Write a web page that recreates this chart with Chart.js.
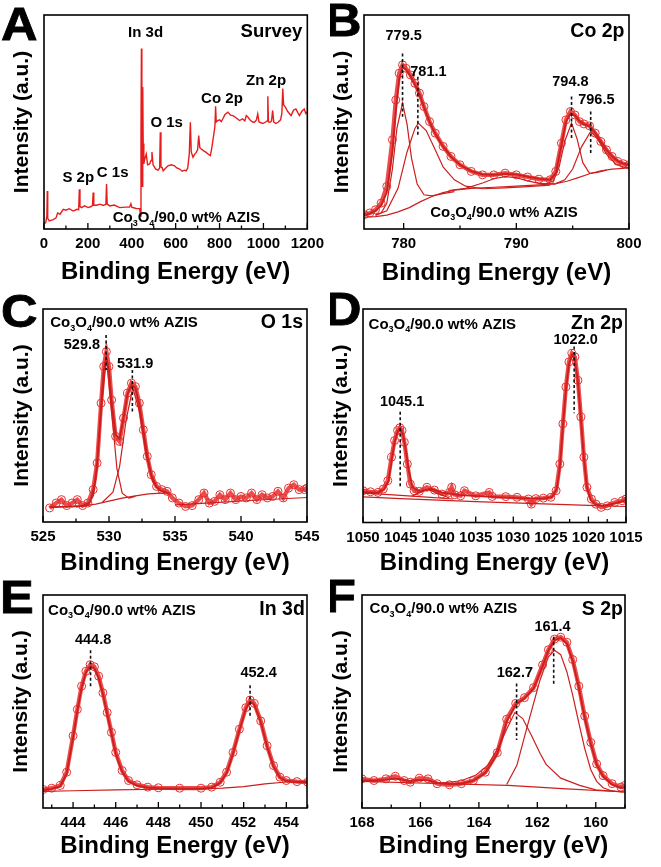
<!DOCTYPE html>
<html>
<head>
<meta charset="utf-8">
<script src="https://cdn.jsdelivr.net/npm/chart.js@4.4.0/dist/chart.umd.min.js"></script>
<style>
  body { margin: 0; background: #fff; width: 661px; height: 867px; position: relative; overflow: hidden; }
  canvas { position: absolute; }
  .tag { position: absolute; font: bold 46px "Liberation Sans", Arial, sans-serif; line-height: 46px;
         transform: scaleX(1.1); transform-origin: left top; -webkit-text-stroke: 0.8px #000; color: #000; }
  #rightTags { position: absolute; left: 330px; top: 0; width: 40px; height: 867px; overflow: hidden; }
</style>
</head>
<body>
<canvas id="panelA" width="330" height="290" style="left:0;top:0"></canvas>
<canvas id="panelB" width="331" height="290" style="left:330px;top:0"></canvas>
<canvas id="panelC" width="330" height="290" style="left:0;top:290px"></canvas>
<canvas id="panelD" width="331" height="290" style="left:330px;top:290px"></canvas>
<canvas id="panelE" width="330" height="287" style="left:0;top:580px"></canvas>
<canvas id="panelF" width="331" height="287" style="left:330px;top:580px"></canvas>
<div class="tag" style="left:1px;top:1px">A</div>
<div class="tag" style="left:1px;top:288px">C</div>
<div class="tag" style="left:0px;top:574px">E</div>
<div id="rightTags">
  <div class="tag" style="left:-5px;top:-3px">B</div>
  <div class="tag" style="left:-5px;top:286px">D</div>
  <div class="tag" style="left:-5px;top:573px">F</div>
</div>
<script>
// ===== A: SURVEY =====
const surveyEnergy = [0, 8, 13, 15, 17, 24, 42, 55, 62, 73, 88, 100, 115, 133, 150, 158, 161, 164, 171, 185,
  201, 215, 221, 224, 227, 239, 255, 270, 282, 285, 288, 300, 320, 345, 370, 390, 396, 400, 420, 436,
  440, 442, 444, 446, 448, 450, 452, 455, 460, 466, 472, 481, 488, 492, 497, 503, 509, 520, 527, 530,
  533, 539, 543, 555, 565, 580, 595, 605, 618, 630, 640, 648, 655, 662, 667, 671, 679, 687, 694, 700,
  705, 710, 717, 728, 739, 750, 758, 765, 773, 779, 782, 785, 792, 800, 808, 815, 825, 838, 850, 861,
  875, 891, 905, 915, 922, 929, 940, 951, 959, 968, 974, 980, 997, 1010, 1017, 1020, 1023, 1030, 1037, 1042,
  1047, 1057, 1068, 1078, 1084, 1088, 1092, 1100, 1110, 1118, 1126, 1137, 1148, 1156, 1164, 1175, 1186, 1193, 1200];
const surveyCounts = [2.5, 3, 6, 17.8, 5, 3.8, 4.4, 5.2, 7.5, 6.9, 9.2, 8.8, 9.5, 8.4, 9.2, 9, 18.6, 10.5, 10, 10.8,
  10, 10.5, 11, 17, 11.2, 11.1, 11.6, 11, 11.5, 21, 11.6, 10.8, 11.2, 10, 10.2, 10.2, 11.8, 10.2, 9.6, 9.5,
  6, 45, 84.4, 30, 20, 66.4, 40, 30.4, 33, 35, 30, 30.4, 32, 36, 30, 29, 28, 27.5, 28.5, 45.2,
  29, 28.6, 27.2, 28.5, 29.5, 30, 29.5, 28.5, 28, 27, 27.5, 27.2, 28.5, 35, 49.9, 36, 33.5, 35, 35.8, 37,
  43.7, 38, 37.4, 36.5, 35.8, 34.8, 34.3, 38, 43.7, 48, 57.3, 50, 50.7, 51, 50.2, 51.5, 53.5, 54.6, 53.2, 53,
  52, 50.7, 51.5, 50.5, 53, 52.3, 50.8, 50, 49.9, 51, 53.8, 50, 49.3, 50, 50.5, 62, 50, 49.9, 50.5, 55.4,
  50, 49.3, 50, 51, 54, 65.6, 58, 57, 55, 54, 53, 55.5, 56.1, 54.5, 53, 55, 56.1, 54, 54.6];
const surveyTicks = [0, 200, 400, 600, 800, 1000, 1200];
const surveyMinor = [100, 300, 500, 700, 900, 1100];

// ===== B: Co 2p =====
const coEnergy = [776.5, 777, 777.5, 778, 778.5, 779, 779.3, 779.6, 779.9, 780.2, 780.6, 781, 781.4, 781.8, 782.3,
  782.8, 783.5, 784.2, 785, 786, 787, 788, 789, 790, 791, 792, 793, 793.5, 794, 794.4, 794.8, 795.2, 795.6,
  796, 796.5, 797, 797.5, 798, 798.5, 799, 799.5, 800];
const coRaw = [6.7, 7.5, 9, 12.1, 19.9, 41.7, 60.3, 72.8, 76.7, 75.1, 72, 68.1, 63.5, 57.2, 50.2,
  44.8, 38.6, 33.9, 30, 26.9, 25.3, 25.3, 26.1, 25.3, 24.3, 23.3, 23, 26.9, 40.1, 51, 54.9, 53.3, 50.2,
  49.1, 48.2, 44.8, 40.9, 37, 33.9, 31.6, 30.5, 30];
const coFit = [6.5, 7.2, 8.5, 11, 17, 36, 55, 70, 75.5, 74.5, 71.5, 67.5, 63, 57, 50,
  44.5, 38.5, 33.8, 30, 27, 25.5, 25.3, 25.8, 25.5, 24.5, 23.5, 23, 26, 39, 50, 54, 53, 50.5,
  49, 48, 45, 41, 37, 34, 31.8, 30.5, 30];
const co1Energy = [777.5, 778, 778.5, 779, 779.4, 779.9, 780.3, 780.7, 781.2, 781.8, 782.5, 783.5, 784.5];
const co1 = [6.5, 7.5, 12, 28, 47, 58.8, 49, 33, 21, 16, 15.5, 16.5, 17.5];
const co2Energy = [777.5, 778.5, 779.5, 780.3, 781, 781.3, 782, 782.8, 783.5, 784.5, 785.5, 787, 789, 791, 793];
const co2 = [6.5, 8.5, 19, 36, 47, 49.5, 46, 37, 29, 23, 20, 18.8, 19.2, 19.8, 20.5];
const coSatEnergy = [784, 785.5, 787, 788, 789, 790, 791, 792, 793.5];
const coSat = [18, 19, 21.5, 23.5, 24.5, 24, 22.5, 21.3, 21];
const co3Energy = [792.5, 793.3, 793.8, 794.3, 794.9, 795.4, 795.9, 796.5, 797.2, 798];
const co3 = [20.8, 22.5, 29, 41, 49.5, 42, 31, 26, 26.5, 27.5];
const co4Energy = [793.5, 794.3, 795, 795.8, 796.6, 797.3, 798, 798.8, 799.5, 800];
const co4 = [21.2, 23, 28, 38.5, 45.6, 41.5, 35, 30.5, 29, 28.6];
const coBgEnergy = [776.5, 777.5, 778.5, 779.5, 780.5, 781.5, 782.5, 783.5, 784.5, 786, 788, 790, 792, 793.5,
  794.5, 795.5, 796.5, 797.5, 798.5, 800];
const coBg = [5.5, 5.8, 6.5, 8, 10, 12.8, 15.2, 17, 18.2, 19, 19.5, 20, 20.6, 21.2, 22.3, 24, 25.8, 27.2, 28, 28.5];
const coMarkEnergy = [779.9, 781.26, 794.9, 796.6];
const coMarkTop = [82, 71.2, 61.9, 54.9];
const coMarkBase = [52.5, 44, 41.7, 35.5];
const coTicks = [780, 790, 800];
const coMinor = [785, 795];

// ===== C: O 1s =====
const oEnergy = [525.5, 526, 526.4, 526.8, 527.2, 527.6, 528, 528.4, 528.8, 529.1, 529.4, 529.6, 529.8, 530,
  530.2, 530.5, 530.8, 531.1, 531.4, 531.7, 532, 532.3, 532.6, 532.9, 533.2, 533.6, 534, 534.4, 534.8, 535.3,
  535.8, 536.3, 536.8, 537.2, 537.6, 538, 538.4, 538.8, 539.2, 539.6, 540, 540.4, 540.8, 541.2, 541.6, 542,
  542.4, 542.8, 543.2, 543.6, 544, 544.4, 544.8, 545];
const oRaw = [6.6, 8.9, 10.5, 7.7, 8.9, 10.5, 7.7, 8.9, 15.2, 27.7, 55.8, 73, 80, 73,
  57.3, 40.2, 37.8, 48.8, 60.5, 65.2, 63.6, 55.8, 43.3, 30.8, 22.2, 16.7, 15.2, 14.4, 11.3, 8.9,
  7.3, 7.7, 10.5, 13.6, 8.9, 9.7, 12.8, 10.5, 13.6, 10.5, 12, 11.3, 13.6, 10.5, 12.8, 11.3,
  12, 14.4, 11.3, 15.9, 17.5, 15.2, 15.2, 15.9];
const oFitEnergy = [525.5, 527, 528, 528.5, 528.8, 529.1, 529.4, 529.6, 529.8, 530, 530.2, 530.5, 530.8, 531.1,
  531.4, 531.7, 532, 532.3, 532.6, 532.9, 533.2, 533.6, 534, 534.5];
const oFit = [7, 7.2, 7.6, 9, 12.5, 27, 54, 71, 77.5, 71, 56, 41, 39, 49,
  60, 64.5, 63, 55, 43, 31, 22, 16.5, 14.5, 13.6];
const oP1Energy = [527.5, 528.5, 529, 529.4, 529.8, 530.2, 530.6, 531, 531.5, 532];
const oP1 = [7, 8, 20, 52, 77, 52, 25, 13.5, 11.2, 12];
const oP2Energy = [529.5, 530.3, 530.8, 531.3, 531.8, 532.3, 532.8, 533.3, 533.8, 534.5];
const oP2 = [9.3, 14, 26, 48, 63, 52, 32, 19, 14.8, 13.6];
const oBgEnergy = [525.5, 528, 529, 530, 531, 532, 533, 534, 534.6];
const oBg = [7, 7.5, 8.4, 9.8, 11.2, 12.3, 13.2, 13.6, 13.6];
const oTailEnergy = [535, 538, 541, 545];
const oTail = [8, 9.1, 10.2, 11.5];
const oMarkEnergy = [529.78, 531.77];
const oMarkTop = [87.8, 71.4];
const oMarkBase = [71.4, 51.1];
const oTicks = [525, 530, 535, 540, 545];
const oMinor = [527.5, 532.5, 537.5, 542.5];

// ===== D: Zn 2p =====
const znEnergy = [1050, 1049, 1048, 1047.3, 1046.7, 1046.2, 1045.8, 1045.4, 1045.1, 1044.8, 1044.5, 1044.1, 1043.7,
  1043.2, 1042.5, 1041.5, 1040.5, 1039.5, 1038.5, 1038.2, 1037.8, 1037, 1036.5, 1035, 1033.2, 1032.8, 1031, 1029.5,
  1028, 1027.6, 1027, 1026, 1025, 1024.3, 1023.8, 1023.4, 1023, 1022.6, 1022.2, 1021.8, 1021.4, 1021, 1020.6,
  1020.2, 1019.6, 1019, 1018.3, 1017.5, 1016.5, 1015.5, 1015];
const znRaw = [14.9, 14.4, 14.1, 15.7, 19.6, 30.6, 38.4, 43.1, 44.4, 43.1, 37.6, 27.4, 18,
  14.9, 14.6, 16.5, 15.2, 13.3, 14.1, 16.5, 13, 12.5, 14.9, 12.5, 14.1, 12.2, 12.1, 11.8,
  11, 8.6, 11.2, 11.4, 11.8, 14.9, 27.4, 46.2, 63.5, 75.2, 79.2, 77.6, 66.6, 49.4, 30.6,
  16.5, 11, 8.6, 7.1, 7.8, 9.4, 10.2, 11];
const znFitEnergy = [1050, 1048, 1047.2, 1046.6, 1046.2, 1045.8, 1045.4, 1045.05, 1044.7, 1044.3, 1043.9, 1043.4,
  1042.5, 1041, 1039.5, 1037, 1033, 1029, 1026, 1024.8, 1024.2, 1023.8, 1023.4, 1023, 1022.6, 1022.2, 1021.85,
  1021.4, 1021, 1020.6, 1020.2, 1019.7, 1019.1, 1018, 1016.5, 1015];
const znFit = [14.2, 14, 15.5, 19.5, 29, 37.5, 42.5, 44, 41.5, 34, 24, 16.5,
  14.5, 15.8, 14, 12.8, 12, 11.4, 11.2, 12, 16, 26, 45, 62, 74, 78.5, 77.5,
  66, 48.5, 30, 16.5, 10.5, 8.5, 7.8, 9, 10.5];
const znSatEnergy = [1043.5, 1042.5, 1041.3, 1040, 1038.5];
const znSat = [12.3, 14, 15.5, 13.5, 11.5];
const znBgEnergy = [1050, 1045, 1040, 1035, 1030, 1025, 1020, 1015];
const znBg = [12, 11.2, 10.5, 9.8, 9.2, 8.6, 8, 7.5];
const znBg2Energy = [1050, 1047, 1044, 1041, 1038];
const znBg2 = [13.8, 13.2, 12.5, 11.8, 11];
const znMarkEnergy = [1021.9, 1045.05];
const znMarkTop = [82.4, 51.9];
const znMarkBase = [51.2, 16.8];
const znTicks = [1050, 1045, 1040, 1035, 1030, 1025, 1020, 1015];
const znMinor = [1047.5, 1042.5, 1037.5, 1032.5, 1027.5, 1022.5, 1017.5];

// ===== E: In 3d =====
const inEnergy = [442.6, 443, 443.4, 443.7, 444, 444.2, 444.4, 444.6, 444.8, 445, 445.2, 445.4, 445.6, 445.8,
  446, 446.3, 446.6, 447, 447.5, 448, 449, 450, 450.5, 450.9, 451.2, 451.5, 451.8, 452.1, 452.3, 452.5,
  452.8, 453.1, 453.4, 453.7, 454, 454.5, 455];
const inRaw = [8.7, 9.3, 10.6, 16.8, 33.9, 46.3, 57.2, 64.2, 67.3, 66.3, 61.9, 54.1, 44.8, 35.5,
  26.1, 17.6, 12.9, 10.9, 9.8, 9.5, 9.3, 9.3, 9.8, 12.1, 16.8, 26.1, 37, 47.1, 50.7, 49.1,
  40.9, 29.2, 19.9, 14.5, 12.9, 12.4, 12.1];
const inFit = [8.5, 9, 10.2, 16, 33, 45.5, 56.5, 63.5, 66.5, 65.5, 61, 53.5, 44, 35,
  25.5, 17, 12.5, 10.5, 9.6, 9.3, 9.1, 9.1, 9.6, 11.8, 16.3, 25.5, 36.5, 46.5, 50, 48.5,
  40.5, 28.8, 19.5, 14.2, 12.7, 12.2, 12];
const inBgEnergy = [442.6, 444, 446, 448, 450, 451, 452, 453, 454, 455];
const inBg = [7.8, 8.1, 8.5, 8.8, 9, 9.3, 10, 11.3, 12.2, 12.4];
const inMarkEnergy = [444.82, 452.3];
const inMarkTop = [74.1, 57.6];
const inMarkBase = [56.9, 42.7];
const inTicks = [444, 446, 448, 450, 452, 454];
const inMinor = [443, 445, 447, 449, 451, 453, 455];

// ===== F: S 2p =====
const sEnergy = [168, 167.59, 167.18, 166.86, 166.56, 166.35, 166.04, 165.74, 165.43, 165.01, 164.6, 164.19,
  163.78, 163.37, 163.05, 162.74, 162.44, 162.13, 161.82, 161.62, 161.41, 161.2, 160.99, 160.79, 160.58,
  160.38, 160.17, 159.97, 159.75, 159.44, 159.14, 159.01];
const sRaw = [13.7, 12.9, 13.7, 14.9, 12.9, 12.1, 14, 13.7, 11.4, 10.9, 11.4, 12.9,
  16.8, 26, 41.7, 49.1, 51.8, 56.5, 67.2, 74.3, 79.3, 80.2, 77.8, 69.7, 57.2,
  43.2, 30.8, 20.7, 15.2, 11.4, 9.8, 10.6];
const sFit = [13, 13, 13.3, 13.8, 13.2, 12.6, 13.2, 13, 11.8, 11.2, 11.5, 12.8,
  16.5, 25.5, 40.5, 48.5, 51.5, 56, 66.5, 74, 78.8, 79.8, 77.2, 69, 56.5,
  42.5, 30.2, 20.3, 14.8, 11, 9.5, 9.8];
const s1Energy = [165.4, 164.6, 164.1, 163.7, 163.35, 163.05, 162.77, 162.5, 162.2, 161.9, 161.7, 161.2, 160.55, 160, 159.07];
const s1 = [11.5, 12.8, 15.5, 20, 28, 37, 44.8, 42, 34, 25.5, 20.5, 14, 10.6, 8.5, 7.5];
const s2Energy = [163.05, 162.7, 162.37, 161.91, 161.62, 161.41, 161.2, 160.99, 160.79, 160.58, 160.38, 160.17, 159.97, 159.75, 159.44, 159];
const s2 = [11, 20, 37, 60, 71, 74, 72, 64, 53, 40, 28, 18, 12.5, 9.5, 8, 7.5];
const sBgEnergy = [168, 165.5, 163, 161, 159];
const sBg = [12.5, 11.5, 10.6, 9, 7.5];
const sMarkEnergy = [161.44, 162.71];
const sMarkTop = [80.4, 58.5];
const sMarkBase = [57.7, 31.9];
const sTicks = [168, 166, 164, 162, 160];
const sMinor = [167, 165, 163, 161, 159];

// ===== DRAWING =====
const FONT = '"Liberation Sans", Arial, sans-serif';
const RED = 'rgb(232,28,28)';
const DARK = 'rgb(205,30,30)';

function pts(xs, ys) { return xs.map((x, i) => ({ x: x, y: ys[i] })); }

function raw(xs, ys) {
  return { data: pts(xs, ys), borderColor: 'rgba(232,45,45,0.85)', borderWidth: 4.2,
    pointRadius: 4, pointBorderWidth: 1, pointBorderColor: 'rgb(228,50,50)',
    pointBackgroundColor: 'rgba(255,255,255,0)' };
}
function fit(xs, ys) { return { data: pts(xs, ys), borderColor: DARK, borderWidth: 1.8, pointRadius: 0 }; }
function comp(xs, ys) { return { data: pts(xs, ys), borderColor: DARK, borderWidth: 1.2, pointRadius: 0 }; }
function marks(xs, tops, bases) {
  return xs.map((x, i) => ({ data: [{ x: x, y: tops[i] }, { x: x, y: bases[i] }],
    borderColor: '#111', borderWidth: 1.6, borderDash: [3, 2.5], pointRadius: 0 }));
}

function drawSample(ctx, x, y, size, align) {
  const parts = [['Co', 0], ['3', 1], ['O', 0], ['4', 1], ['/90.0 wt% AZIS', 0]];
  const big = 'bold ' + size + 'px ' + FONT;
  const small = 'bold ' + Math.round(size * 0.62) + 'px ' + FONT;
  let w = 0;
  parts.forEach(p => { ctx.font = p[1] ? small : big; w += ctx.measureText(p[0]).width; });
  let cx = align === 'center' ? x - w / 2 : x;
  ctx.textAlign = 'left';
  ctx.textBaseline = 'middle';
  parts.forEach(p => {
    ctx.font = p[1] ? small : big;
    ctx.fillText(p[0], cx, p[1] ? y + size * 0.32 : y);
    cx += ctx.measureText(p[0]).width;
  });
}

function decor(minor, notes) {
  return {
    id: 'decor',
    afterDatasetsDraw(chart) {
      const { ctx, chartArea: a } = chart;
      const x = chart.scales.x, y = chart.scales.y;
      ctx.save();
      ctx.strokeStyle = '#000';
      ctx.lineWidth = 1.6;
      ctx.strokeRect(a.left, a.top, a.right - a.left, a.bottom - a.top);
      ctx.lineWidth = 1.3;
      ctx.beginPath();
      x.ticks.forEach(t => { const p = x.getPixelForValue(t.value); ctx.moveTo(p, a.bottom); ctx.lineTo(p, a.bottom - 6); });
      minor.forEach(v => { const p = x.getPixelForValue(v); ctx.moveTo(p, a.bottom); ctx.lineTo(p, a.bottom - 3.5); });
      ctx.stroke();
      ctx.fillStyle = '#000';
      notes.forEach(n => {
        const px = x.getPixelForValue(n.x), py = y.getPixelForValue(n.y);
        if (n.sample) { drawSample(ctx, px, py, n.size, n.align); return; }
        ctx.font = 'bold ' + n.size + 'px ' + FONT;
        ctx.textAlign = n.align;
        ctx.textBaseline = 'middle';
        ctx.fillText(n.text, px, py);
      });
      ctx.restore();
    }
  };
}

function panel(id, cell, area, xs, sets, minor, notes) {
  new Chart(document.getElementById(id), {
    type: 'line',
    data: { datasets: sets },
    options: {
      responsive: false,
      animation: false,
      layout: { padding: { left: 0, top: area.t - cell.y, right: cell.x + cell.w - area.r, bottom: 0 } },
      plugins: { legend: { display: false }, tooltip: { enabled: false } },
      elements: { line: { tension: 0 } },
      scales: {
        x: {
          type: 'linear', min: xs.min, max: xs.max, reverse: !!xs.reverse,
          grid: { display: false, drawTicks: false }, border: { display: false },
          ticks: { color: '#000', font: { family: FONT, weight: 'bold', size: 15 }, padding: 6,
                   autoSkip: false, maxRotation: 0, callback: v => String(v) },
          afterBuildTicks: s => { s.ticks = xs.ticks.map(v => ({ value: v })); },
          afterFit: s => { s.height = cell.y + cell.h - area.b; },
          title: { display: true, text: 'Binding Energy (eV)', color: '#000',
                   font: { family: FONT, weight: 'bold', size: 24, lineHeight: 1 },
                   padding: { top: 0, bottom: area.xt - 12 } }
        },
        y: {
          min: 0, max: 100,
          grid: { display: false, drawTicks: false }, border: { display: false },
          ticks: { display: false },
          afterFit: s => { s.width = area.l - cell.x; },
          title: { display: true, text: 'Intensity (a.u.)', color: '#000',
                   font: { family: FONT, weight: 'bold', size: 21, lineHeight: 1 },
                   padding: { top: area.yt - 10.5, bottom: 0 } }
        }
      }
    },
    plugins: [decor(minor, notes)]
  });
}

// A
panel('panelA', { x: 0, y: 0, w: 330, h: 290 }, { l: 44, t: 15, r: 308, b: 229, xt: 18, yt: 22 },
  { min: 0, max: 1200, ticks: surveyTicks },
  [{ data: pts(surveyEnergy, surveyCounts), borderColor: RED, borderWidth: 1.4, pointRadius: 0 }],
  surveyMinor,
  [{ text: 'Survey', x: 1177, y: 92.2, size: 18.5, align: 'right' },
   { text: 'In 3d', x: 463, y: 91.8, size: 15, align: 'center' },
   { text: 'O 1s', x: 559, y: 49.8, size: 15, align: 'center' },
   { text: 'Co 2p', x: 811, y: 60.7, size: 15, align: 'center' },
   { text: 'Zn 2p', x: 1012, y: 69.2, size: 15, align: 'center' },
   { text: 'S 2p', x: 156, y: 24.1, size: 15, align: 'center' },
   { text: 'C 1s', x: 313, y: 26.4, size: 15, align: 'center' },
   { sample: true, x: 649, y: 5, size: 15, align: 'center' }]);

// B
panel('panelB', { x: 330, y: 0, w: 331, h: 290 }, { l: 364, t: 15, r: 629, b: 229, xt: 17, yt: 12 },
  { min: 776.48, max: 800, ticks: coTicks },
  marks(coMarkEnergy, coMarkTop, coMarkBase).concat([
    fit(coEnergy, coFit), comp(co1Energy, co1), comp(co2Energy, co2), comp(coSatEnergy, coSat),
    comp(co3Energy, co3), comp(co4Energy, co4), comp(coBgEnergy, coBg), raw(coEnergy, coRaw)]),
  coMinor,
  [{ text: 'Co 2p', x: 799.6, y: 92, size: 19.5, align: 'right' },
   { text: '779.5', x: 780.0, y: 90.2, size: 14.5, align: 'center' },
   { text: '781.1', x: 782.2, y: 73.5, size: 14.5, align: 'center' },
   { text: '794.8', x: 794.8, y: 68.9, size: 14.5, align: 'center' },
   { text: '796.5', x: 797.1, y: 60.3, size: 14.5, align: 'center' },
   { sample: true, x: 788.9, y: 7.5, size: 15, align: 'center' }]);

// C
panel('panelC', { x: 0, y: 290, w: 330, h: 290 }, { l: 43, t: 309, r: 307, b: 522, xt: 17, yt: 22 },
  { min: 525, max: 545, ticks: oTicks },
  marks(oMarkEnergy, oMarkTop, oMarkBase).concat([
    fit(oFitEnergy, oFit), comp(oP1Energy, oP1), comp(oP2Energy, oP2), comp(oBgEnergy, oBg),
    comp(oTailEnergy, oTail), raw(oEnergy, oRaw)]),
  oMinor,
  [{ text: 'O 1s', x: 544.7, y: 93.7, size: 19.5, align: 'right' },
   { text: '529.8', x: 527.95, y: 83.1, size: 14.5, align: 'center' },
   { text: '531.9', x: 531.98, y: 74.2, size: 14.5, align: 'center' },
   { sample: true, x: 525.55, y: 93.3, size: 15, align: 'left' }]);

// D
panel('panelD', { x: 330, y: 290, w: 331, h: 290 }, { l: 363, t: 309, r: 626, b: 522.5, xt: 17, yt: 11 },
  { min: 1015, max: 1050, reverse: true, ticks: znTicks },
  marks(znMarkEnergy, znMarkTop, znMarkBase).concat([
    fit(znFitEnergy, znFit), comp(znSatEnergy, znSat), comp(znBgEnergy, znBg), comp(znBg2Energy, znBg2),
    raw(znEnergy, znRaw)]),
  znMinor,
  [{ text: 'Zn 2p', x: 1015.4, y: 93.2, size: 19.5, align: 'right' },
   { text: '1022.0', x: 1021.7, y: 85.5, size: 14.5, align: 'center' },
   { text: '1045.1', x: 1044.8, y: 56.6, size: 14.5, align: 'center' },
   { sample: true, x: 1049.26, y: 92.7, size: 15, align: 'left' }]);

// E
panel('panelE', { x: 0, y: 580, w: 330, h: 287 }, { l: 43, t: 595, r: 307, b: 808, xt: 21, yt: 21 },
  { min: 442.59, max: 454.97, ticks: inTicks },
  marks(inMarkEnergy, inMarkTop, inMarkBase).concat([
    fit(inEnergy, inFit), comp(inBgEnergy, inBg), raw(inEnergy, inRaw)]),
  inMinor,
  [{ text: 'In 3d', x: 454.87, y: 92.9, size: 19.5, align: 'right' },
   { text: '444.8', x: 444.94, y: 78.8, size: 14.5, align: 'center' },
   { text: '452.4', x: 452.7, y: 63.2, size: 14.5, align: 'center' },
   { sample: true, x: 442.83, y: 92.6, size: 15, align: 'left' }]);

// F
panel('panelF', { x: 330, y: 580, w: 331, h: 287 }, { l: 362, t: 595, r: 625, b: 808, xt: 21, yt: 11 },
  { min: 159, max: 168, reverse: true, ticks: sTicks },
  marks(sMarkEnergy, sMarkTop, sMarkBase).concat([
    fit(sEnergy, sFit), comp(s1Energy, s1), comp(s2Energy, s2), comp(sBgEnergy, sBg), raw(sEnergy, sRaw)]),
  sMinor,
  [{ text: 'S 2p', x: 159.07, y: 92.9, size: 19.5, align: 'right' },
   { text: '161.4', x: 161.48, y: 85.1, size: 14.5, align: 'center' },
   { text: '162.7', x: 162.77, y: 63.2, size: 14.5, align: 'center' },
   { sample: true, x: 167.74, y: 93.3, size: 15, align: 'left' }]);
</script>
</body>
</html>
